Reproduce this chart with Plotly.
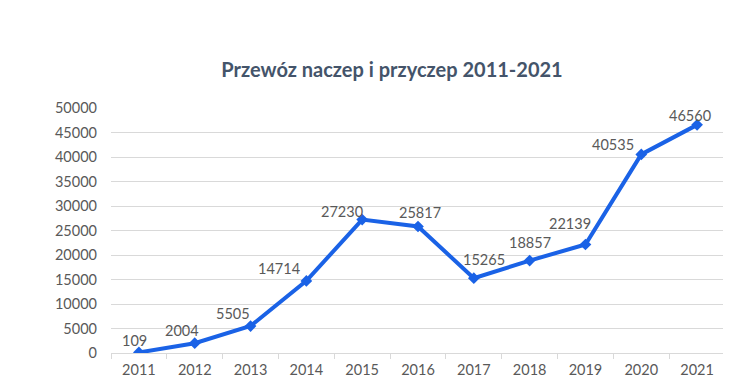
import plotly.graph_objects as go

years = ["2011", "2012", "2013", "2014", "2015", "2016", "2017", "2018", "2019", "2020", "2021"]
values = [109, 2004, 5505, 14714, 27230, 25817, 15265, 18857, 22139, 40535, 46560]
y_ticks = list(range(0, 50001, 5000))

# label pixel offsets (styling only)
label_dx = [-4, -13, -18, -27, -20, 2, 10, 0, -15, -28, -7]
label_dy = [12, 13, 13, 12, 8, 14, 19, 18, 21, 10, 9]

LINE = "#1a62e6"
TXT = "#595959"
GRID = "#d9d9d9"

# page body has an 8px margin, so the figure is offset by 8px
W, H = 723, 383

fig = go.Figure()
fig.add_trace(go.Scatter(
    x=years, y=values, mode="lines+markers",
    line=dict(color=LINE, width=4),
    marker=dict(symbol="diamond", size=9, color=LINE),
    hoverinfo="x+y", showlegend=False,
))

for i, (v, dx, dy) in enumerate(zip(values, label_dx, label_dy)):
    fig.add_annotation(x=i, y=v, text=str(v), showarrow=False,
                       xshift=dx, yshift=dy, xanchor="center", yanchor="middle",
                       font=dict(family="Lato", size=14.5, color=TXT))

fig.update_layout(
    width=W, height=H,
    margin=dict(l=103, r=6, t=100, b=38),
    paper_bgcolor="white", plot_bgcolor="white",
    title=dict(text="<b>Przewóz naczep i przyczep 2011-2021</b>",
               x=384 / W, xref="container", xanchor="center",
               y=1 - 62 / H, yanchor="middle",
               font=dict(family="Lato", size=20, color="#44546a")),
    font=dict(family="Lato", size=14.5, color=TXT),
)
fig.update_xaxes(type="category", categoryorder="array", categoryarray=years,
                 range=[-0.5, len(years) - 0.5], autorange=False,
                 showgrid=False, showline=True, linecolor=GRID, linewidth=1,
                 ticks="outside", tickson="boundaries", ticklen=5, tickcolor=GRID,
                 tickangle=0, ticklabelstandoff=4,
                 tickfont=dict(family="Lato", size=14.5, color=TXT))
fig.update_yaxes(range=[0, 50000], tickvals=y_ticks, ticktext=[str(t) for t in y_ticks],
                 showgrid=True, gridcolor=GRID, gridwidth=1, zeroline=False,
                 showline=False, ticks="", ticklabelstandoff=13,
                 tickfont=dict(family="Lato", size=14.5, color=TXT))

fig.write_html("out.html")
